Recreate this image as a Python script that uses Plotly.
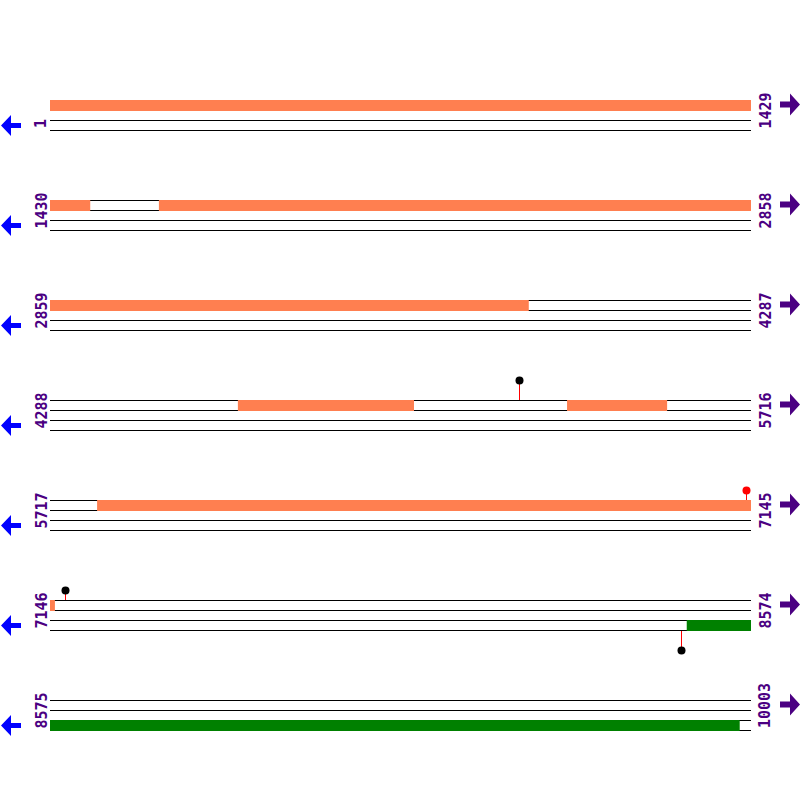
import plotly.graph_objects as go

# ---- data ----
row_len = 1429
total_len = 10003
row_starts = [1, 1430, 2859, 4288, 5717, 7146, 8575]
row_ends = [1429, 2858, 4287, 5716, 7145, 8574, 10003]

# forward-strand features (orange): start, end
fwd_starts = [1, 1652, 4671, 5342, 5813]
fwd_ends = [1511, 3834, 5029, 5545, 7155]
# reverse-strand features (green)
rev_starts = [8444]
rev_ends = [9980]

# sites (lollipops): position, strand, dot colour, stem level
site_pos = [5245, 7136, 7177, 8433]
site_strand = ["+", "+", "+", "-"]
site_color = ["black", "red", "black", "black"]
site_level = [2, 1, 1, 2]

ORANGE = "#FF7F50"
GREEN = "#008000"
PURPLE = "#4B0082"
BLUE = "#0000FF"

k = 701 / row_len  # px per bp


def row_y(i):
    return 100 + 100 * i


fig = go.Figure()
shapes = []
annotations = []

# track lines
for i, rs in enumerate(row_starts):
    y = row_y(i)
    for dy in (0, 10, 20, 30):
        shapes.append(dict(type="line", xref="x", yref="y", x0=0, x1=row_len,
                           y0=y + dy + 0.5, y1=y + dy + 0.5,
                           line=dict(color="black", width=1)))


def add_feature(s, e, band, color):
    for i, rs in enumerate(row_starts):
        re_ = rs + row_len - 1
        a = max(s, rs)
        b = min(e, re_)
        if a > b:
            continue
        y = row_y(i) + band
        shapes.append(dict(type="rect", xref="x", yref="y",
                           x0=a - rs, x1=b - rs + 1, y0=y, y1=y + 11,
                           fillcolor=color, line=dict(width=0)))


for s, e in zip(fwd_starts, fwd_ends):
    add_feature(s, e, 0, ORANGE)
for s, e in zip(rev_starts, rev_ends):
    add_feature(s, e, 20, GREEN)

# lollipops
for p, st, c, lv in zip(site_pos, site_strand, site_color, site_level):
    i = (p - 1) // row_len
    rs = row_starts[i]
    off = p - rs + 0.5
    # snap to pixel centre for a crisp 1px stem
    x = (int(50 + off * k) + 0.5 - 50) / k
    h = 10 * lv
    if st == "+":
        y0, y1 = row_y(i) + 0.5, row_y(i) + 0.5 - h
    else:
        y0, y1 = row_y(i) + 30.5, row_y(i) + 30.5 + h
    fig.add_trace(go.Scatter(x=[x, x], y=[y0, y1], mode="lines",
                             line=dict(color="red", width=1),
                             hoverinfo="skip", showlegend=False))
    fig.add_trace(go.Scatter(x=[x], y=[y1], mode="markers",
                             marker=dict(color=c, size=8, line=dict(width=0)),
                             hoverinfo="skip", showlegend=False))

# labels and arrows
P = lambda px: px / 800
FONT = dict(family="DejaVu Sans Mono", size=15, color=PURPLE)
for i, (rs, re_) in enumerate(zip(row_starts, row_ends)):
    y = row_y(i)
    annotations.append(dict(x=41 / 800, xref="paper", y=y + 30.5, yref="y",
                            text=f"<b>{rs}</b>", textangle=-90, showarrow=False,
                            xanchor="center", yanchor="bottom", font=FONT))
    annotations.append(dict(x=765 / 800, xref="paper", y=y + 30.5, yref="y",
                            text=f"<b>{re_}</b>", textangle=-90, showarrow=False,
                            xanchor="center", yanchor="bottom", font=FONT))
    # left blue arrow
    cy = y + 25.5
    path_l = (f"M {P(1)},{cy} L {P(11)},{cy-10.5} L {P(11)},{cy-2.5} L {P(21)},{cy-2.5} "
              f"L {P(21)},{cy+2.5} L {P(11)},{cy+2.5} L {P(11)},{cy+10.5} Z")
    shapes.append(dict(type="path", xref="paper", yref="y", path=path_l,
                       fillcolor=BLUE, line=dict(width=0)))
    cy = y + 4.5
    path_r = (f"M {P(800)},{cy} L {P(790)},{cy-11} L {P(790)},{cy-3} L {P(780)},{cy-3} "
              f"L {P(780)},{cy+3} L {P(790)},{cy+3} L {P(790)},{cy+11} Z")
    shapes.append(dict(type="path", xref="paper", yref="y", path=path_r,
                       fillcolor=PURPLE, line=dict(width=0)))

fig.update_layout(
    width=800, height=800,
    margin=dict(l=0, r=0, t=0, b=0),
    paper_bgcolor="white", plot_bgcolor="white",
    shapes=shapes, annotations=annotations,
    xaxis=dict(range=[-50 / k, 750 / k], visible=False, fixedrange=True),
    yaxis=dict(range=[800, 0], visible=False, fixedrange=True),
    showlegend=False,
)

fig.write_html("out.html", config={"displayModeBar": False},
               post_script="document.body.style.margin='0';document.body.style.overflow='hidden';")
